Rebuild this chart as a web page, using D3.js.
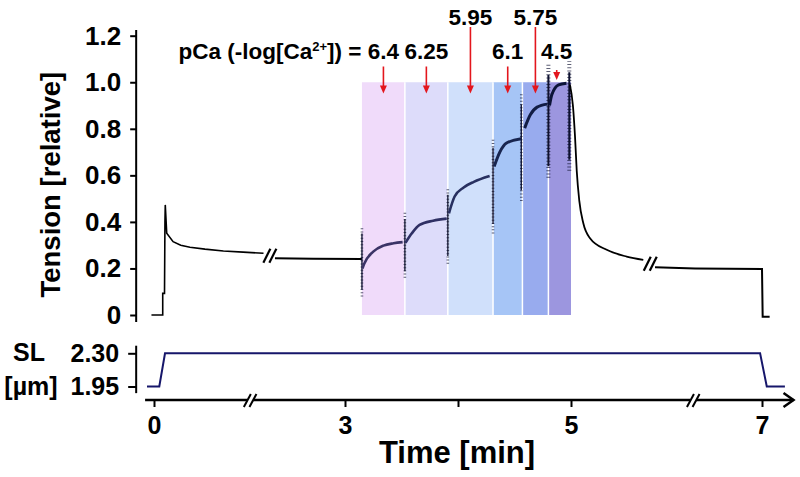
<!DOCTYPE html>
<html><head><meta charset="utf-8">
<script src="https://cdn.jsdelivr.net/npm/d3@7"></script>
<style>
body{margin:0;background:#fff}
svg{display:block}
text{font-family:"Liberation Sans",Arial,Helvetica,sans-serif;font-weight:bold;fill:#000}
</style>
</head><body>
<svg id="chart" width="800" height="477"></svg>
<script>
// ---------------- data ----------------
const tensionTicks = [0, 0.2, 0.4, 0.6, 0.8, 1.0, 1.2];
const timeTicks = [0, 3, 4, 5, 7];
const timeTickLabels = ["0", "3", "", "5", "7"];
const slTicks = [1.95, 2.30];
const slTickLabels = ["1.95", "2.30"];

// pCa solution periods
const pCaLabels = ["6.4", "6.25", "5.95", "6.1", "5.75", "4.5"];
const pCaStart = [3.15, 3.53, 3.91, 4.31, 4.57, 4.80];
const pCaEnd = [3.53, 3.91, 4.31, 4.57, 4.80, 5.0];
const pCaUpperRow = [false, false, true, false, true, false];

// tension trace: relaxed, before the axis break
const restTime = [-0.04, 0.137, 0.137, 0.165, 0.172, 0.177, 0.20, 0.30, 0.42, 0.565, 0.80, 1.09, 1.40, 1.72];
const restValue = [0, 0, 0.093, 0.093, 0.40, 0.473, 0.351, 0.315, 0.30, 0.291, 0.283, 0.275, 0.27, 0.265];
// relaxed, after the axis break
const rest2Time = [1.90, 2.5, 3.15];
const rest2Value = [0.244, 0.242, 0.241];
// activation curves in each pCa period
const actTime = [
  [3.155, 3.17, 3.25, 3.34, 3.43, 3.51],
  [3.535, 3.59, 3.66, 3.78, 3.90],
  [3.92, 3.97, 4.05, 4.14, 4.28],
  [4.32, 4.37, 4.43, 4.56],
  [4.59, 4.64, 4.70, 4.79],
  [4.81, 4.83, 4.89, 4.96]
];
const actValue = [
  [0.20, 0.22, 0.272, 0.298, 0.308, 0.313],
  [0.31, 0.35, 0.387, 0.405, 0.414],
  [0.437, 0.509, 0.548, 0.572, 0.597],
  [0.638, 0.70, 0.739, 0.757],
  [0.803, 0.86, 0.893, 0.906],
  [0.90, 0.946, 0.989, 0.996]
];
// solution-exchange artefacts (noisy spikes)
const spikeTime = [3.15, 3.53, 3.91, 4.31, 4.56, 4.80, 4.985];
const spikeLo = [0.08, 0.16, 0.22, 0.35, 0.49, 0.59, 0.62];
const spikeHi = [0.38, 0.44, 0.55, 0.76, 0.95, 1.08, 1.09];
// relaxation after return to relaxing solution
const relaxTime = [4.99, 5.02, 5.042, 5.06, 5.087, 5.129, 5.199, 5.374, 5.583, 5.757];
const relaxValue = [0.99, 0.90, 0.767, 0.62, 0.49, 0.394, 0.33, 0.28, 0.251, 0.237];
const postTime = [5.88, 6.3, 7.0, 7.007, 7.08];
const postValue = [0.205, 0.200, 0.198, -0.007, -0.007];
// trace and axis breaks
const traceBreakTime = [1.82, 5.83];
const traceBreakValue = [0.255, 0.22];
const axisBreakTime = [1.51, 6.28];

// sarcomere length
const slTime = [-0.11, 0.083, 0.173, 6.98, 7.05, 7.24];
const slValue = [1.95, 1.95, 2.30, 2.30, 1.95, 1.95];

// ---------------- styles ----------------
const regionColors = ["#f0dbfa", "#dddcfa", "#d0e0fb", "#a6c5f6", "#98abee", "#9c96df"];
const curveColors = ["#3b3466", "#2f3064", "#283060", "#18254f", "#121d45", "#0c1438"];
const red = "#e3161d";

// ---------------- scales ----------------
const svg = d3.select("#chart");
const x = d3.scaleLinear().domain([0, 3, 5, 7]).range([154, 345, 571, 762]);
const yT = d3.scaleLinear().domain([0, 1.2]).range([315, 35.7]);
const ySL = d3.scaleLinear().domain([1.95, 2.30]).range([386.5, 353.3]);

// ---------------- pCa regions ----------------
const gReg = svg.append("g");
gReg.selectAll("rect").data(pCaLabels).join("rect")
  .attr("x", (d, i) => x(pCaStart[i]))
  .attr("width", (d, i) => x(pCaEnd[i]) - x(pCaStart[i]))
  .attr("y", yT(1.0))
  .attr("height", yT(0) - yT(1.0))
  .attr("fill", (d, i) => regionColors[i]);
gReg.selectAll("line.sep").data(pCaStart.slice(1)).join("line")
  .attr("class", "sep")
  .attr("x1", d => x(d)).attr("x2", d => x(d))
  .attr("y1", yT(1.0)).attr("y2", yT(0))
  .attr("stroke", "#fff").attr("stroke-width", 1.5);

// ---------------- tension trace ----------------
const line = d3.line().x(d => x(d[0])).y(d => yT(d[1]));
const zip = (a, b) => a.map((t, i) => [t, b[i]]);

svg.append("path").datum(zip(restTime, restValue)).attr("d", line)
  .attr("fill", "none").attr("stroke", "#000").attr("stroke-width", 1.6);
svg.append("path").datum(zip(rest2Time, rest2Value)).attr("d", line)
  .attr("fill", "none").attr("stroke", "#000").attr("stroke-width", 2);

// spikes
const gSp = svg.append("g");
spikeTime.forEach((t, i) => {
  const w = i >= 5 ? 4 : 2.6;
  gSp.append("line")
    .attr("x1", x(t)).attr("x2", x(t)).attr("y1", yT(spikeLo[i])).attr("y2", yT(spikeHi[i]))
    .attr("stroke", "#1a1d3c").attr("stroke-width", w).attr("stroke-dasharray", "1,2.2").attr("opacity", 0.7);
  gSp.append("line")
    .attr("x1", x(t)).attr("x2", x(t))
    .attr("y1", yT(spikeLo[i] + (spikeHi[i] - spikeLo[i]) * 0.1))
    .attr("y2", yT(spikeHi[i] - (spikeHi[i] - spikeLo[i]) * 0.1))
    .attr("stroke", "#0d1030").attr("stroke-width", i >= 5 ? 2 : 1.3);
});

const curve = d3.line().x(d => x(d[0])).y(d => yT(d[1])).curve(d3.curveMonotoneX);
actTime.forEach((ts, i) => {
  svg.append("path").datum(zip(ts, actValue[i])).attr("d", curve)
    .attr("fill", "none").attr("stroke", curveColors[i]).attr("stroke-width", i >= 3 ? 3 : 2.6);
});
svg.append("path").datum(zip(relaxTime, relaxValue)).attr("d", curve)
  .attr("fill", "none").attr("stroke", "#000").attr("stroke-width", 1.8);
svg.append("path").datum(zip(postTime, postValue)).attr("d", line)
  .attr("fill", "none").attr("stroke", "#000").attr("stroke-width", 2);

// trace break symbols
traceBreakTime.forEach((t, i) => {
  const g = svg.append("g").attr("transform", `translate(${x(t)},${yT(traceBreakValue[i])})`);
  g.append("rect").attr("x", -4).attr("y", -9).attr("width", 8).attr("height", 18).attr("fill", "#fff");
  [-3, 3].forEach(o => g.append("line")
    .attr("x1", o - 3.5).attr("y1", 7).attr("x2", o + 3.5).attr("y2", -7)
    .attr("stroke", "#000").attr("stroke-width", 2.2));
});

// ---------------- tension axis ----------------
const gy = svg.append("g").attr("transform", `translate(${x(-0.28)},0)`);
gy.call(d3.axisLeft(yT).tickValues(tensionTicks).tickSize(6).tickPadding(9)
  .tickFormat(d => d === 0 ? "0" : d3.format(".1f")(d)));
gy.select(".domain").remove();
gy.append("line").attr("y1", yT(1.225)).attr("y2", yT(-0.03)).attr("stroke", "#000").attr("stroke-width", 2);
gy.selectAll(".tick line").attr("stroke-width", 2);
gy.selectAll(".tick text").attr("font-size", 26).attr("font-family", null).style("font-weight", "bold").attr("fill", "#000");

svg.append("text")
  .attr("transform", `translate(60,${(yT(1.18) + yT(-0.06)) / 2}) rotate(-90)`)
  .attr("text-anchor", "middle").attr("font-size", 27.5)
  .text("Tension [relative]");

// ---------------- pCa annotation ----------------
const gA = svg.append("g");
pCaLabels.forEach((lab, i) => {
  const cx = x((pCaStart[i] + pCaEnd[i]) / 2) - (i === 5 ? 3 : 0);
  const base = pCaUpperRow[i] ? 25 : 59;
  gA.append("text").attr("x", cx).attr("y", base).attr("text-anchor", "middle")
    .attr("font-size", 22.5).text(lab);
  const top = i === 5 ? 70 : base + (pCaUpperRow[i] ? 2 : 7.5);
  const tip = i === 5 ? 80 : 93.5;
  gA.append("line").attr("x1", cx).attr("x2", cx).attr("y1", top).attr("y2", tip - 6)
    .attr("stroke", red).attr("stroke-width", 1.6);
  gA.append("path").attr("d", `M${cx - 3.5},${tip - 8}L${cx + 3.5},${tip - 8}L${cx},${tip}Z`).attr("fill", red);
});
const first = x((pCaStart[0] + pCaEnd[0]) / 2);
const pre = gA.append("text").attr("x", first - 22).attr("y", 59).attr("text-anchor", "end").attr("font-size", 22.5);
pre.append("tspan").text("pCa (-log[Ca");
pre.append("tspan").attr("dy", -8).attr("font-size", 13).text("2+");
pre.append("tspan").attr("dy", 8).text("]) =");

// ---------------- SL panel ----------------
svg.append("path").datum(zip(slTime, slValue))
  .attr("d", d3.line().x(d => x(d[0])).y(d => ySL(d[1])))
  .attr("fill", "none").attr("stroke", "#16166a").attr("stroke-width", 2);

const gs = svg.append("g").attr("transform", `translate(${x(-0.28)},0)`);
gs.call(d3.axisLeft(ySL).tickValues(slTicks).tickSize(8).tickPadding(9)
  .tickFormat((d, i) => slTickLabels[i]));
gs.select(".domain").remove();
gs.append("line").attr("y1", ySL(2.38)).attr("y2", ySL(1.88)).attr("stroke", "#000").attr("stroke-width", 2);
gs.selectAll(".tick line").attr("stroke-width", 2);
gs.selectAll(".tick text").attr("font-size", 25).attr("font-family", null).style("font-weight", "bold").attr("fill", "#000");

svg.append("text").attr("x", 29).attr("y", 361).attr("text-anchor", "middle").attr("font-size", 25).text("SL");
svg.append("text").attr("x", 31).attr("y", 395).attr("text-anchor", "middle").attr("font-size", 25).text("[µm]");

// ---------------- time axis ----------------
const axisY = 400;
const gx = svg.append("g").attr("transform", `translate(0,${axisY})`);
gx.call(d3.axisBottom(x).tickValues(timeTicks).tickSize(7).tickPadding(9)
  .tickFormat((d, i) => timeTickLabels[i]));
gx.select(".domain").remove();
gx.append("line").attr("x1", x(-0.14)).attr("x2", x(7.33)).attr("stroke", "#000").attr("stroke-width", 2.5);
gx.append("path").attr("d", `M${x(7.33) - 10},-7L${x(7.33)},0L${x(7.33) - 10},7`)
  .attr("fill", "none").attr("stroke", "#000").attr("stroke-width", 2.5);
gx.selectAll(".tick line").attr("stroke-width", 2);
gx.selectAll(".tick text").attr("font-size", 25).attr("font-family", null).style("font-weight", "bold").attr("fill", "#000");
axisBreakTime.forEach(t => {
  const g = gx.append("g").attr("transform", `translate(${x(t)},0)`);
  g.append("rect").attr("x", -3).attr("y", -3).attr("width", 6).attr("height", 6).attr("fill", "#fff");
  [-2.8, 2.8].forEach(o => g.append("line")
    .attr("x1", o - 3.5).attr("y1", 7).attr("x2", o + 3.5).attr("y2", -6)
    .attr("stroke", "#000").attr("stroke-width", 2));
});

svg.append("text").attr("x", 457).attr("y", 463).attr("text-anchor", "middle")
  .attr("font-size", 31).text("Time [min]");
</script>
</body></html>
